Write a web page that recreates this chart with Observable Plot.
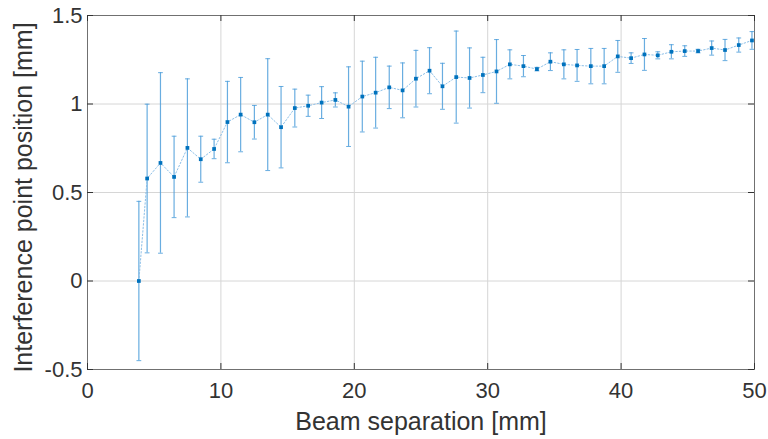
<!DOCTYPE html>
<html>
<head>
<meta charset="utf-8">
<script src="https://cdn.jsdelivr.net/npm/d3@7"></script>
<script src="https://cdn.jsdelivr.net/npm/@observablehq/plot@0.6"></script>
<style>
  html, body { margin: 0; padding: 0; background: #ffffff; }
  #chart { width: 768px; height: 439px; }
  svg { font-family: "Liberation Sans", Arial, Helvetica, sans-serif; }
</style>
</head>
<body>
<div id="chart"></div>
<script>
// Beam separation [mm]
const separation = [3.85, 4.47, 5.47, 6.49, 7.49, 8.49, 9.49, 10.49, 11.48, 12.51,
  13.51, 14.51, 15.54, 16.54, 17.55, 18.58, 19.57, 20.6, 21.6, 22.62,
  23.62, 24.62, 25.64, 26.61, 27.64, 28.64, 29.64, 30.66, 31.66, 32.68,
  33.69, 34.7, 35.71, 36.7, 37.73, 38.73, 39.75, 40.75, 41.75, 42.75,
  43.77, 44.77, 45.77, 46.79, 47.79, 48.82, 49.81];
// Interference point position [mm]
const position = [0, 0.579, 0.667, 0.588, 0.752, 0.688, 0.746, 0.898, 0.94, 0.897,
  0.94, 0.869, 0.977, 0.99, 1.008, 1.023, 0.985, 1.042, 1.064, 1.094,
  1.077, 1.143, 1.188, 1.1, 1.152, 1.147, 1.164, 1.184, 1.224, 1.214,
  1.197, 1.239, 1.224, 1.218, 1.214, 1.214, 1.269, 1.259, 1.28, 1.275,
  1.295, 1.299, 1.299, 1.316, 1.305, 1.333, 1.359];
// Error (half-length of error bar) [mm]
const errorHalf = [0.45, 0.42, 0.51, 0.23, 0.39, 0.13, 0.055, 0.23, 0.21, 0.095,
  0.316, 0.23, 0.107, 0.06, 0.09, 0.04, 0.225, 0.2, 0.2, 0.12,
  0.155, 0.16, 0.13, 0.13, 0.26, 0.17, 0.1, 0.18, 0.082, 0.06,
  0.01, 0.05, 0.082, 0.09, 0.1, 0.1, 0.09, 0.03, 0.09, 0.02,
  0.04, 0.03, 0.01, 0.04, 0.06, 0.04, 0.05];

const xTicks = [0, 10, 20, 30, 40, 50];
const yTicks = [-0.5, 0, 0.5, 1, 1.5];
const xLabel = "Beam separation [mm]";
const yLabel = "Interference point position [mm]";

const data = separation.map((x, i) => ({x, y: position[i], e: errorHalf[i]}));

const W = 768, H = 439;
const mL = 87, mR = 14, mT = 15, mB = 70;
const xMin = 0, xMax = 50, yMin = -0.5, yMax = 1.5;
// tick length in data units (6 px)
const tkX = 6 * (xMax - xMin) / (W - mL - mR);
const tkY = 6 * (yMax - yMin) / (H - mT - mB);
const capHalf = 0.18;

const barColor = "#4f9fda";
const textColor = "#333333";

const chart = Plot.plot({
  width: W,
  height: H,
  marginLeft: mL,
  marginRight: mR,
  marginTop: mT,
  marginBottom: mB,
  style: {background: "#ffffff", color: textColor, fontFamily: "'Liberation Sans', Arial, sans-serif"},
  x: {domain: [xMin, xMax]},
  y: {domain: [yMin, yMax]},
  marks: [
    Plot.gridX(xTicks, {stroke: "#d6d6d6", strokeOpacity: 1}),
    Plot.gridY(yTicks, {stroke: "#d6d6d6", strokeOpacity: 1}),
    Plot.frame({stroke: "#707070", strokeWidth: 1}),
    // inward tick marks on all four sides
    Plot.ruleX(xTicks, {x: d => d, y1: yMin, y2: yMin + tkY, stroke: "#333"}),
    Plot.ruleX(xTicks, {x: d => d, y1: yMax - tkY, y2: yMax, stroke: "#333"}),
    Plot.ruleY(yTicks, {y: d => d, x1: xMin, x2: xMin + tkX, stroke: "#333"}),
    Plot.ruleY(yTicks, {y: d => d, x1: xMax - tkX, x2: xMax, stroke: "#333"}),
    Plot.axisX(xTicks, {tickSize: 0, tickPadding: 13, fontSize: 22, label: null, tickFormat: d => String(d), fill: textColor}),
    Plot.axisY(yTicks, {tickSize: 0, tickPadding: 5, fontSize: 22, label: null, tickFormat: d => String(d), fill: textColor}),
    // error bars
    Plot.ruleX(data, {x: "x", y1: d => d.y - d.e, y2: d => d.y + d.e, stroke: barColor, strokeWidth: 1.2, strokeOpacity: 0.85}),
    Plot.link(data, {x1: d => d.x - capHalf, x2: d => d.x + capHalf, y1: d => d.y + d.e, y2: d => d.y + d.e, stroke: barColor, strokeWidth: 1, strokeOpacity: 0.85}),
    Plot.link(data, {x1: d => d.x - capHalf, x2: d => d.x + capHalf, y1: d => d.y - d.e, y2: d => d.y - d.e, stroke: barColor, strokeWidth: 1, strokeOpacity: 0.85}),
    // dotted connecting line
    Plot.line(data, {x: "x", y: "y", stroke: "#8cbfe8", strokeWidth: 1, strokeDasharray: "1.5,2"}),
    // markers
    Plot.dot(data, {x: "x", y: "y", symbol: "square", r: 2.1, fill: "#0072BD", stroke: "none"}),
    // axis titles
    Plot.text([xLabel], {text: d => d, frameAnchor: "bottom", dy: 52, fontSize: 25, fill: textColor, lineAnchor: "middle", textAnchor: "middle"}),
    Plot.text([yLabel], {text: d => d, frameAnchor: "left", dx: -64, dy: 5, rotate: -90, fontSize: 25, fill: textColor, lineAnchor: "middle", textAnchor: "middle"})
  ]
});

document.getElementById("chart").appendChild(chart);
</script>
</body>
</html>
